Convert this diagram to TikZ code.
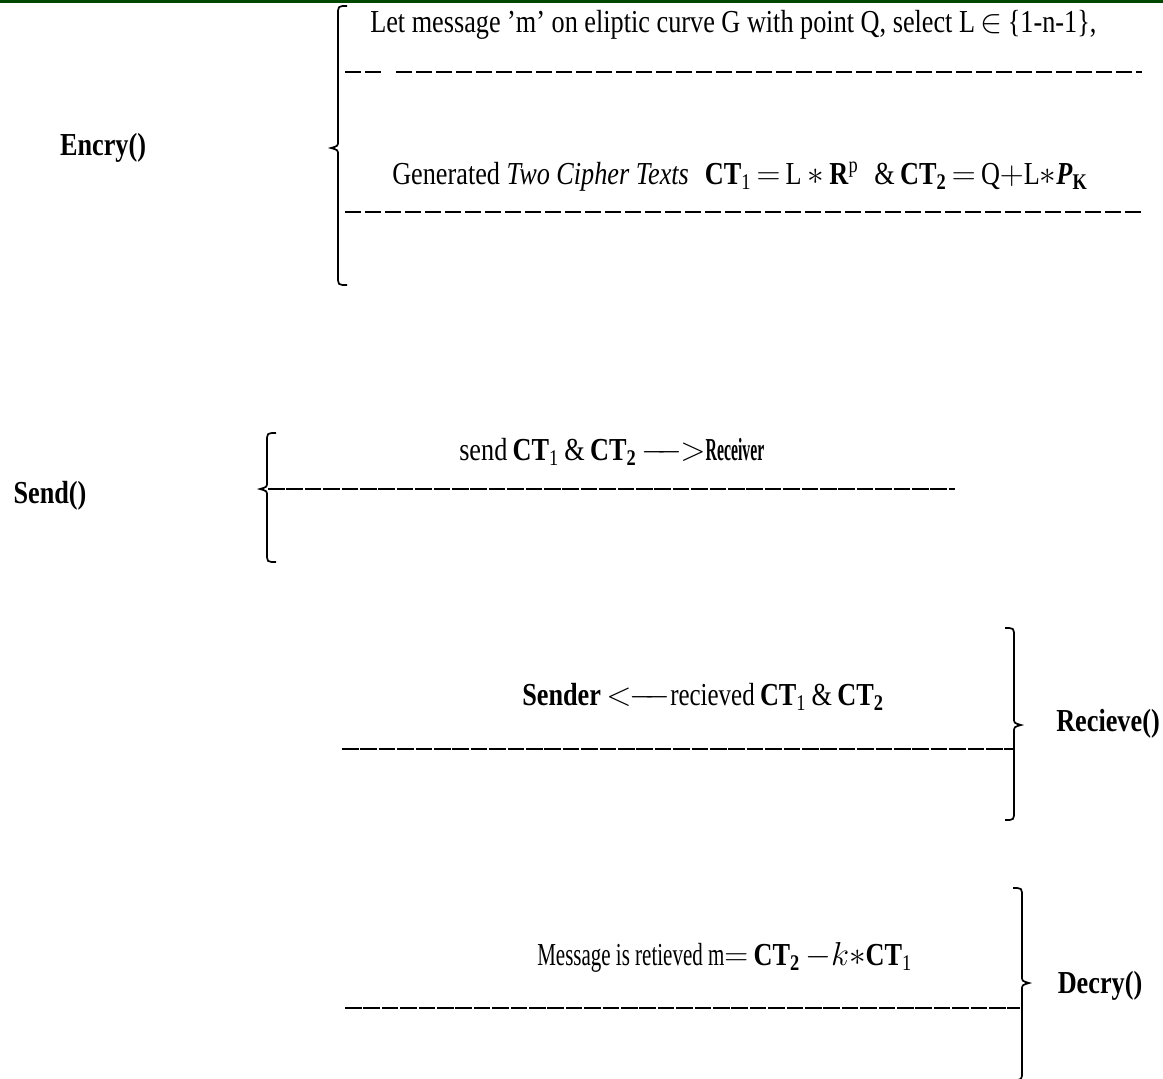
\documentclass[tikz,border=0pt]{standalone}
\usepackage{fontspec}
\setmainfont{Liberation Serif}[FakeStretch=0.82]
\usepackage{tikz}
\usetikzlibrary{positioning}
\usepackage{xcolor}
\definecolor{topgreen}{RGB}{0,72,0}

% brace shapes, drawn in pixel units
\newcommand{\leftbrace}[4]{%
  \draw[brace] ({#1+9},#2) .. controls (#1,#2) .. (#1,{#2+9}) -- (#1,{#3-7})
    .. controls (#1,{#3-2}) .. ({#1-7},#3) .. controls (#1,{#3+2}) .. (#1,{#3+7})
    -- (#1,{#4-9}) .. controls (#1,#4) .. ({#1+9},#4);}
\newcommand{\rightbrace}[4]{%
  \draw[brace] ({#1-9},#2) .. controls (#1,#2) .. (#1,{#2+9}) -- (#1,{#3-7})
    .. controls (#1,{#3-2}) .. ({#1+7},#3) .. controls (#1,{#3+2}) .. (#1,{#3+7})
    -- (#1,{#4-9}) .. controls (#1,#4) .. ({#1-9},#4);}
\newcommand{\squeeze}[2]{\scalebox{#1}[1]{#2}}

\begin{document}
\begin{tikzpicture}[x=0.75pt,y=-0.75pt,
	  every node/.style={inner sep=0pt,font=\fontsize{24}{28}\selectfont},
	  func/.style={font=\fontsize{24}{28}\selectfont\bfseries},
	  step text/.style={anchor=west},
	  brace/.style={line width=1.3pt,black},
	  dashline/.style={line width=1.5pt,dash pattern=on 12pt off 3pt},
	  tightdash/.style={line width=1.5pt,dash pattern=on 12.5pt off 1.3pt}]

	  \useasboundingbox (0,0) rectangle (1163,1078);
	  \fill[topgreen] (0,0) rectangle (1163,2.5);

	  % function names
	  \node[func] (encry) at (103,148) {Encry()};
	  \node[func] (send) at (50,496) {Send()};
	  \node[func] (recieve) at (1108,724) {Recieve()};
	  \node[func] (decry) at (1100,986) {Decry()};

	  % Encry block
	  \leftbrace{338}{6}{148}{285}
	  \node[step text] (letmsg) at (370,25) {Let message 'm' on eliptic curve G with point Q, select L\,$\in$\,\{1-n-1\},};
	  \draw[dashline] (345,72) -- (383,72);
	  \draw[dashline] (396,72) -- (1142,72);
	  \node[step text] (gen) at (392,177) {Generated \textit{Two Cipher Texts}\enspace\textbf{CT}\textsubscript{1}\,$=$\,L$\,\ast\,$\textbf{R}\textsuperscript{p}\enspace\&\,\textbf{CT\textsubscript{2}}\,$=$\,Q$+$L$\ast$\textbf{\textit{P}\textsubscript{K}}};
	  \draw[dashline] (345,212) -- (1142,212);

	  % Send block
	  \leftbrace{267}{433}{489}{562}
	  \node[step text] (sendct) at (459,452) {send\,\textbf{CT}\textsubscript{1}\,\&\,\textbf{CT\textsubscript{2}}\,$-\!\!-\!\!>$\squeeze{0.6}{\textbf{Receiver}}};
	  \draw[tightdash] (268,489) -- (955,489);

	  % Recieve block
	  \rightbrace{1014}{628}{725}{820}
	  \node[step text] (getct) at (522,697) {\textbf{Sender}\,$<\!\!-\!\!-$\squeeze{0.95}{recieved}\,\textbf{CT}\textsubscript{1}\,\&\,\textbf{CT\textsubscript{2}}};
	  \draw[tightdash] (342,749) -- (1013,749);

	  % Decry block
	  \rightbrace{1022}{888}{983}{1080}
	  \node[step text] (msg) at (537,957) {\squeeze{0.8}{Message is retieved m}$=$\,\textbf{CT\textsubscript{2}}\,$-k{\ast}$\textbf{CT}\textsubscript{1}};
	  \draw[tightdash] (345,1008) -- (1020,1008);

\end{tikzpicture}
\end{document}
